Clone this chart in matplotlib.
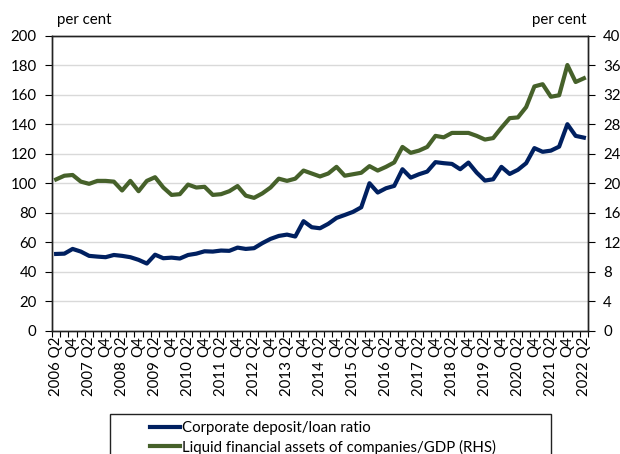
import numpy as np
import matplotlib
matplotlib.use("Agg")
import matplotlib.pyplot as plt
from matplotlib.ticker import FixedLocator
from matplotlib.patches import Rectangle

plt.rcParams["font.family"] = ["Lato", "DejaVu Sans"]

# quarters 2006 Q2 .. 2022 Q2
years = list(range(2006, 2023))
quarters = []
for y in years:
    for q in [1, 2, 3, 4]:
        if (y == 2006 and q < 2) or (y == 2022 and q > 2):
            continue
        quarters.append((y, q))

# corporate deposit/loan ratio, per cent (left axis)
deposit_loan = [52.0, 52.2, 55.4, 53.6, 50.7, 50.2, 49.8, 51.3, 50.7, 49.8,
                48.0, 45.5, 51.5, 49.1, 49.5, 48.9, 51.3, 52.2, 53.8, 53.6,
                54.3, 54.1, 56.3, 55.4, 55.9, 59.3, 62.2, 64.2, 65.1, 63.8,
                74.2, 70.1, 69.4, 72.4, 76.4, 78.4, 80.5, 83.6, 99.9, 93.6,
                96.5, 98.1, 109.4, 103.7, 106.0, 107.8, 114.2, 113.5, 113.0, 109.4,
                113.9, 107.1, 101.7, 102.6, 111.0, 106.2, 109.0, 113.5, 123.7, 121.2,
                122.0, 124.7, 139.9, 132.0, 130.8]

# liquid financial assets of companies/GDP, per cent (right axis)
liquid_assets = [20.5, 21.0, 21.1, 20.2, 19.9, 20.3, 20.3, 20.2, 19.0, 20.3,
                 18.9, 20.3, 20.8, 19.4, 18.4, 18.5, 19.8, 19.4, 19.5, 18.4,
                 18.5, 18.9, 19.6, 18.3, 18.0, 18.6, 19.4, 20.6, 20.3, 20.6,
                 21.7, 21.3, 20.9, 21.3, 22.2, 21.0, 21.2, 21.4, 22.3, 21.7,
                 22.2, 22.8, 24.9, 24.1, 24.4, 24.9, 26.4, 26.2, 26.8, 26.8,
                 26.8, 26.4, 25.9, 26.1, 27.5, 28.8, 28.9, 30.3, 33.1, 33.4,
                 31.7, 31.9, 36.0, 33.7, 34.2]

labels = []
for y, q in quarters:
    if q == 2:
        labels.append(f"{y} Q2")
    elif q == 4:
        labels.append("Q4")
    else:
        labels.append("")

blue = "#002060"
green = "#46612A"
fs = 10.8

fig = plt.figure(figsize=(6.2, 4.54), dpi=100)
ax = fig.add_axes([52 / 620, 123.3 / 454, 536 / 620, 295.2 / 454])
ax2 = ax.twinx()

x = np.arange(len(quarters))
ax.plot(x, deposit_loan, color=blue, lw=3, solid_joinstyle="round",
        label="Corporate deposit/loan ratio", zorder=3)
ax2.plot(x, liquid_assets, color=green, lw=3, solid_joinstyle="round",
         label="Liquid financial assets of companies/GDP (RHS)", zorder=3)

ax.set_xlim(-0.5, len(quarters) - 0.5)
ax.set_ylim(0, 200)
ax2.set_ylim(0, 40)
ax.set_yticks(range(0, 201, 20))
ax2.set_yticks(range(0, 41, 4))

for yv in range(20, 200, 20):
    ax.axhline(yv, color="#d9d9d9", lw=1, zorder=1)

ax.set_xticks(x)
ax.set_xticklabels(labels, rotation=90, fontsize=fs)
ax.tick_params(axis="x", which="major", length=0, pad=4)
ax.xaxis.set_minor_locator(FixedLocator(np.arange(-0.5, len(quarters), 1)))
ax.tick_params(axis="x", which="minor", length=4, direction="out", width=0.8)
ax.tick_params(axis="y", length=5, width=0.8, labelsize=fs, pad=6)
ax2.tick_params(axis="y", length=5, width=0.8, labelsize=fs, pad=6)

for a in [ax, ax2]:
    for s in a.spines.values():
        s.set_color("#222222")
        s.set_linewidth(1.0)

fig.text(57 / 620, 1 - 20 / 454, "per cent", fontsize=fs, va="center", ha="left")
fig.text(587 / 620, 1 - 20 / 454, "per cent", fontsize=fs, va="center", ha="right")

# legend box (runs off the bottom edge like the original)
fig.patches.append(Rectangle((110 / 620, -0.05), (551 - 110) / 620,
                             (454 - 414) / 454 + 0.05, transform=fig.transFigure,
                             facecolor="white", edgecolor="#222222", lw=1.0))

h1, l1 = ax.get_legend_handles_labels()
h2, l2 = ax2.get_legend_handles_labels()
leg = fig.legend(h1 + h2, l1 + l2, loc="upper left",
                 bbox_to_anchor=(150 / 620, 1 - 421 / 454),
                 fontsize=fs, frameon=False, handlelength=2.0,
                 handletextpad=0.1, borderpad=0.0, labelspacing=0.3,
                 borderaxespad=0)

fig.savefig("out.png", dpi=100)
